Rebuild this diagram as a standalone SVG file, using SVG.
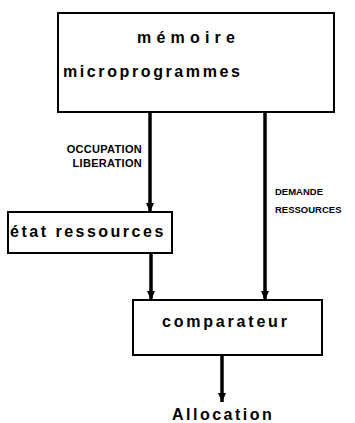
<svg xmlns="http://www.w3.org/2000/svg" width="355" height="423" viewBox="0 0 355 423">
<style>
.box{fill:#fff;stroke:#000;stroke-width:2}
.big{font-family:"Liberation Sans",Arial,sans-serif;font-weight:bold;font-size:16px;fill:#000}
.small{font-family:"Liberation Sans",Arial,sans-serif;font-weight:bold;fill:#000}
.wire{stroke:#000;stroke-width:3.5;fill:none;marker-end:url(#ah)}
</style>
<defs>
<marker id="ah" markerWidth="10" markerHeight="10" refX="9" refY="4" orient="auto" markerUnits="userSpaceOnUse">
<path d="M0,0 L9,4 L0,8 z" fill="#000"/>
</marker>
</defs>
<rect width="355" height="423" fill="#fff"/>
<g id="connectors">
<line class="wire" x1="150" y1="112" x2="150" y2="212"/>
<line class="wire" x1="151" y1="253" x2="151" y2="300"/>
<line class="wire" x1="265" y1="112" x2="265" y2="300"/>
<line class="wire" x1="222" y1="355" x2="222" y2="402"/>
<text class="small" font-size="11" x="142" y="153" text-anchor="end" letter-spacing="0.3">OCCUPATION</text>
<text class="small" font-size="11" x="142" y="167" text-anchor="end" letter-spacing="0.3">LIBERATION</text>
<text class="small" font-size="9.5" x="275" y="195">DEMANDE</text>
<text class="small" font-size="9.5" x="275" y="213">RESSOURCES</text>
</g>
<g id="memoire">
<rect class="box" x="58" y="13" width="276" height="99"/>
<text class="big" x="137" y="43" letter-spacing="5.2">mémoire</text>
<text class="big" x="63" y="77" letter-spacing="2.6">microprogrammes</text>
</g>
<g id="etat">
<rect class="box" x="8" y="212" width="164" height="41"/>
<text class="big" x="10" y="237" letter-spacing="2.5">état ressources</text>
</g>
<g id="comparateur">
<rect class="box" x="133" y="300" width="189" height="55"/>
<text class="big" x="162" y="327" letter-spacing="2.8">comparateur</text>
</g>
<g id="allocation">
<text class="big" font-size="16.5" x="172" y="420" letter-spacing="2.5">Allocation</text>
</g>
</svg>
